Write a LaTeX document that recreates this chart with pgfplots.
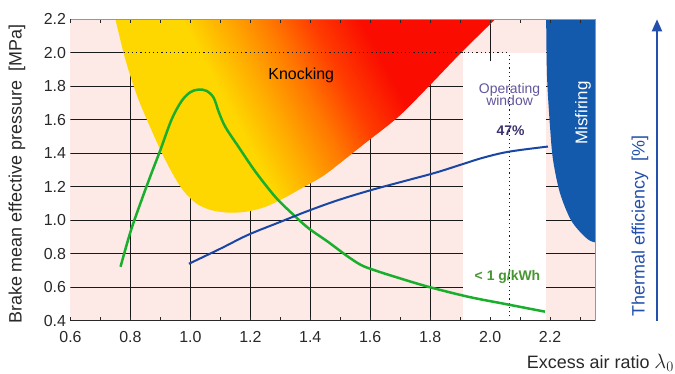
\documentclass[border=0pt]{standalone}
\usepackage{fontspec}
\setmainfont{Liberation Sans}
\usepackage{pgfplots}
\pgfplotsset{compat=1.18}
\usetikzlibrary{arrows.meta}

\definecolor{pinkbg}{RGB}{253,233,229}
\definecolor{ky}{RGB}{254,214,0}
\definecolor{ko1}{RGB}{255,170,0}
\definecolor{ko2}{RGB}{255,120,0}
\definecolor{ko3}{RGB}{255,60,0}
\definecolor{kr}{RGB}{250,12,0}
\definecolor{misblue}{RGB}{20,90,172}
\definecolor{curveblue}{RGB}{25,70,165}
\definecolor{arrowblue}{RGB}{35,80,170}
\definecolor{nox}{RGB}{25,175,45}
\definecolor{noxtext}{RGB}{70,150,50}
\definecolor{winpurple}{RGB}{100,85,155}
\definecolor{pctpurple}{RGB}{60,50,110}
\definecolor{gridc}{RGB}{25,25,25}
\definecolor{framegray}{RGB}{150,150,150}
\definecolor{labelc}{RGB}{40,40,40}

\pgfdeclarehorizontalshading{knock}{100bp}{color(0bp)=(ky); color(40bp)=(ky); color(46bp)=(ko1); color(52bp)=(ko2); color(58bp)=(ko3); color(65bp)=(kr); color(100bp)=(kr)}

\begin{document}
\begin{tikzpicture}
\begin{axis}[name=ax, scale only axis, width=524.5bp, height=301.4bp,
  xmin=0.6, xmax=2.35, ymin=0.4, ymax=2.2,
  xtick={0.6,0.8,1.0,1.2,1.4,1.6,1.8,2.0,2.2},
  minor xtick={0.7,0.9,1.1,1.3,1.5,1.7,1.9,2.1,2.3},
  ytick={0.4,0.6,0.8,1.0,1.2,1.4,1.6,1.8,2.0,2.2},
  /pgf/number format/.cd, fixed, fixed zerofill, precision=1, assume math mode=true, /pgfplots/.cd,
  tick label style={font=\fontsize{16}{16}\selectfont, text=labelc},
  xticklabel style={yshift=-7bp},
  yticklabel style={xshift=-1bp},
  axis line style={draw=none},
  tick align=inside,
  major tick length=4bp, minor tick length=4bp,
  xtick style={draw=labelc, line width=1bp},
  ytick style={draw=none},
  axis background/.style={fill=pinkbg},
  axis on top,
]
% operating window
\addplot[fill=white, draw=none] coordinates {(1.91,0.4) (2.187,0.4) (2.187,2.0) (1.91,2.0)} -- cycle;
% grid
\pgfplotsinvokeforeach{0.6,0.8,1.0,1.2,1.4,1.6,1.8,2.0}{
  \draw[gridc, line width=1.2bp] (axis cs:0.6,#1) -- (axis cs:1.91,#1);
  \draw[gridc, line width=1.2bp] (axis cs:2.187,#1) -- (axis cs:2.35,#1);
}
\pgfplotsinvokeforeach{0.8,1.0,1.2,1.4,1.6,1.8}{
  \draw[gridc, line width=1.2bp] (axis cs:#1,0.4) -- (axis cs:#1,2.2);
}
\draw[gridc, line width=1.2bp] (axis cs:2.0,1.95) -- (axis cs:2.0,2.2);
% knocking
\addplot[draw=none, shade, shading=knock, shading angle=28, smooth, tension=0.5] coordinates {
(0.75,2.2) (0.777,2.0) (0.80,1.86) (0.827,1.72) (0.86,1.58) (0.90,1.42) (0.937,1.29) (0.975,1.18)
(1.02,1.10) (1.07,1.06) (1.13,1.045) (1.19,1.052) (1.25,1.08) (1.31,1.13) (1.37,1.19) (1.43,1.25)
(1.47,1.30) (1.583,1.46) (1.693,1.616) (1.793,1.795) (1.903,2.0) (2.017,2.2)} -- cycle;
% misfiring
\addplot[draw=none, fill=misblue, smooth, tension=0.5] coordinates {
(2.187,2.25) (2.187,2.2) (2.19,1.855) (2.2,1.556) (2.21,1.36) (2.233,1.163) (2.27,1.0) (2.317,0.9)
(2.35,0.868) (2.42,0.868) (2.42,2.25)} -- cycle;
% dotted lines
\draw[gridc, line width=1bp, dash pattern=on 1.2bp off 3bp] (axis cs:0.777,2.0) -- (axis cs:2.065,2.0);
\draw[gridc, line width=1bp, dash pattern=on 1.2bp off 3bp] (axis cs:2.065,0.4) -- (axis cs:2.065,2.0);
% NOx curve
\addplot[nox, line width=2.5bp, smooth, tension=0.55] coordinates {
(0.767,0.722) (0.80,0.93) (0.837,1.12) (0.87,1.28) (0.90,1.42) (0.937,1.60) (0.97,1.71) (1.00,1.765)
(1.027,1.78) (1.055,1.772) (1.078,1.73) (1.095,1.645) (1.117,1.556) (1.16,1.44) (1.217,1.29)
(1.283,1.14) (1.337,1.044) (1.393,0.954) (1.46,0.87) (1.52,0.79) (1.57,0.732) (1.62,0.698) (1.683,0.662)
(1.793,0.603) (1.927,0.543) (2.05,0.50) (2.183,0.454)};
% thermal efficiency curve
\addplot[curveblue, line width=2bp, smooth, tension=0.6] coordinates {
(0.995,0.74) (1.10,0.83) (1.193,0.913) (1.30,0.99) (1.393,1.056) (1.493,1.12) (1.603,1.18)
(1.727,1.24) (1.82,1.285) (1.903,1.332) (1.98,1.375) (2.065,1.41) (2.193,1.44)};
% texts
\node[font=\fontsize{16}{16}\selectfont, text=black] at (axis cs:1.37,1.867) {Knocking};
\node[font=\fontsize{14}{14}\selectfont, text=winpurple, align=center, inner sep=0pt] at (axis cs:2.065,1.75) {Operating\\[-1.5bp]window};
\node[font=\fontsize{14}{14}\selectfont\bfseries, text=pctpurple] at (axis cs:2.068,1.533) {47\%};
\node[font=\fontsize{14}{14}\selectfont\bfseries, text=noxtext] at (axis cs:2.058,0.66) {< 1 g/kWh};
\node[font=\fontsize{17}{17}\selectfont, text=white, rotate=90] at (axis cs:2.31,1.64) {Misfiring};
\end{axis}
% frame
\draw[framegray, line width=1bp] (ax.north west) -- (ax.north east) -- (ax.south east);
\draw[labelc, line width=1.5bp] (ax.south west) -- (ax.south east);
% outer labels
\node[font=\fontsize{18}{18}\selectfont, text=labelc, rotate=90] at ([shift={(-53.5bp,146.7bp)}]ax.south west) {Brake mean effective pressure~~[MPa]};
\node[font=\fontsize{18}{18}\selectfont, text=labelc, anchor=base east, inner sep=0pt] at ([shift={(603.5bp,-47.3bp)}]ax.south west) {Excess air ratio {\fontsize{22}{22}\selectfont$\lambda_0$}};
\node[font=\fontsize{18}{18}\selectfont, text=arrowblue, rotate=90] at ([shift={(569.5bp,94.7bp)}]ax.south west) {Thermal efficiency~~[\%]};
\draw[arrowblue, line width=2bp, -{Triangle[length=12bp,width=10bp]}] ([shift={(586.5bp,0bp)}]ax.south west) -- ([shift={(586.5bp,301.4bp)}]ax.south west);
\pgfresetboundingbox
\path[use as bounding box] ([shift={(-70.5bp,-53.3bp)}]ax.south west) rectangle ([shift={(604.5bp,320.7bp)}]ax.south west);
\end{tikzpicture}
\end{document}
